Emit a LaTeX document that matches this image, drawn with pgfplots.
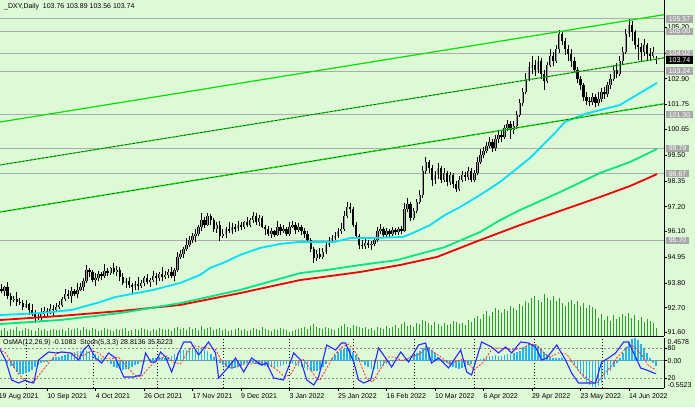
\documentclass[border=0pt]{standalone}
\usepackage{pgfplots}
\pgfplotsset{compat=1.18}
\usepackage{pgfplotstable}
\usepackage{fontspec}
\setmainfont{Liberation Sans}
\definecolor{bg}{RGB}{222,249,214}
\definecolor{lvl}{RGB}{172,172,172}
\definecolor{boxg}{RGB}{168,168,168}
\definecolor{chan}{RGB}{0,225,0}
\definecolor{macyan}{RGB}{0,225,250}
\definecolor{magreen}{RGB}{0,230,130}
\definecolor{mared}{RGB}{240,0,0}
\definecolor{vol}{RGB}{40,160,40}
\definecolor{osma}{RGB}{40,180,240}
\definecolor{stmain}{RGB}{40,40,255}
\definecolor{stsig}{RGB}{255,40,40}
\definecolor{bull}{RGB}{150,150,150}
\newcommand\sz{\fontsize{7}{8}\selectfont}

\pgfplotstableread[row sep=\\]{
i o h l c v m\\
0 93.70 93.82 93.40 93.55 7 0.05\\
1 93.55 93.75 93.37 93.45 6 0.03\\
2 93.45 93.68 93.23 93.60 8 0.00\\
3 93.60 93.85 93.08 93.20 5 -0.05\\
4 93.20 93.35 92.77 93.05 7 -0.10\\
5 93.05 93.20 92.95 93.10 6 -0.15\\
6 93.10 93.40 92.77 92.95 9 -0.22\\
7 92.95 93.13 92.84 92.90 5 -0.26\\
8 92.90 93.02 92.60 92.75 6 -0.27\\
9 92.75 93.05 92.67 92.85 8 -0.25\\
10 92.85 92.93 92.38 92.60 7 -0.22\\
11 92.60 92.85 92.33 92.45 6 -0.18\\
12 92.45 92.60 92.02 92.30 5 -0.12\\
13 92.30 92.40 92.15 92.25 8 -0.08\\
14 92.25 92.70 92.07 92.40 6 -0.05\\
15 92.40 92.73 92.34 92.55 7 -0.03\\
16 92.55 92.67 92.35 92.50 5 -0.01\\
17 92.50 92.85 92.42 92.65 6 0.02\\
18 92.65 92.80 92.32 92.60 7 0.05\\
19 92.60 92.90 92.50 92.75 6 0.07\\
20 92.75 93.00 92.62 92.80 6 0.08\\
21 92.80 93.18 92.74 93.10 7 0.10\\
22 93.10 93.55 92.98 93.30 5 0.12\\
23 93.30 93.50 93.08 93.20 8 0.13\\
24 93.20 93.60 92.92 93.45 6 0.15\\
25 93.45 93.55 93.20 93.30 7 0.17\\
26 93.30 93.80 93.12 93.50 8 0.19\\
27 93.50 93.78 93.44 93.60 6 0.20\\
28 93.60 94.02 93.45 93.90 9 0.22\\
29 93.90 94.60 93.82 94.40 7 0.20\\
30 94.40 94.48 94.08 94.30 6 0.19\\
31 94.30 94.40 93.83 93.95 8 0.17\\
32 93.95 94.25 93.67 94.00 7 0.14\\
33 94.00 94.35 93.90 94.20 5 0.10\\
34 94.20 94.30 93.92 94.10 6 0.06\\
35 94.10 94.65 94.04 94.35 8 0.02\\
36 94.35 94.47 94.10 94.25 7 -0.02\\
37 94.25 94.53 94.17 94.45 6 -0.07\\
38 94.45 94.70 94.18 94.30 5 -0.12\\
39 94.30 94.55 94.12 94.40 7 -0.15\\
40 94.40 94.50 93.90 94.05 6 -0.17\\
41 94.05 94.25 93.72 93.80 7 -0.18\\
42 93.80 94.02 93.58 93.90 8 -0.17\\
43 93.90 94.05 93.58 93.70 5 -0.15\\
44 93.70 93.80 93.32 93.60 6 -0.12\\
45 93.60 93.90 93.50 93.75 7 -0.09\\
46 93.75 94.05 93.47 93.65 6 -0.06\\
47 93.65 93.95 93.59 93.80 8 -0.03\\
48 93.80 94.12 93.65 94.00 7 -0.01\\
49 94.00 94.20 93.77 93.85 6 0.01\\
50 93.85 94.03 93.63 93.95 5 0.03\\
51 93.95 94.35 93.83 94.10 7 0.05\\
52 94.10 94.25 93.72 94.00 6 0.06\\
53 94.00 94.30 93.90 94.20 8 0.07\\
54 94.20 94.50 93.87 94.05 7 0.06\\
55 94.05 94.33 93.99 94.15 6 0.06\\
56 94.15 94.42 94.00 94.30 7 0.08\\
57 94.30 94.50 94.02 94.10 5 0.10\\
58 94.10 94.48 93.88 94.40 8 0.13\\
59 94.40 95.20 94.28 94.95 9 0.16\\
60 94.95 95.25 94.85 95.10 7 0.19\\
61 95.10 95.40 94.92 95.30 8 0.21\\
62 95.30 95.80 95.24 95.50 6 0.22\\
63 95.50 95.88 95.42 95.70 9 0.23\\
64 95.70 96.02 95.58 95.90 7 0.24\\
65 95.90 96.20 95.62 96.00 8 0.24\\
66 96.00 96.38 95.90 96.30 6 0.25\\
67 96.30 96.90 96.12 96.60 10 0.24\\
68 96.60 96.75 96.25 96.40 7 0.22\\
69 96.40 96.92 96.32 96.80 8 0.19\\
70 96.80 96.88 96.38 96.60 9 0.14\\
71 96.60 96.70 96.08 96.20 6 0.08\\
72 96.20 96.50 96.04 96.40 7 0.02\\
73 96.40 96.55 95.65 95.90 8 -0.04\\
74 95.90 96.20 95.80 96.00 6 -0.09\\
75 96.00 96.30 95.82 96.20 7 -0.13\\
76 96.20 96.50 96.04 96.10 5 -0.15\\
77 96.10 96.48 96.00 96.30 6 -0.16\\
78 96.30 96.42 96.05 96.20 7 -0.15\\
79 96.20 96.55 96.12 96.40 8 -0.12\\
80 96.40 96.50 96.15 96.30 6 -0.10\\
81 96.30 96.58 96.22 96.50 7 -0.07\\
82 96.50 96.75 96.28 96.40 5 -0.05\\
83 96.40 96.68 96.28 96.60 6 -0.04\\
84 96.60 96.95 96.48 96.80 8 -0.04\\
85 96.80 96.90 96.40 96.50 7 -0.06\\
86 96.50 96.85 96.32 96.70 6 -0.08\\
87 96.70 96.78 96.24 96.30 9 -0.10\\
88 96.30 96.40 95.92 96.20 7 -0.11\\
89 96.20 96.35 95.90 96.00 6 -0.12\\
90 96.00 96.25 95.82 96.10 5 -0.13\\
91 96.10 96.18 95.85 95.95 7 -0.13\\
92 95.95 96.55 95.89 96.30 6 -0.12\\
93 96.30 96.42 95.95 96.10 8 -0.10\\
94 96.10 96.40 96.02 96.20 7 -0.08\\
95 96.20 96.28 95.90 96.00 6 -0.06\\
96 96.00 96.50 95.88 96.30 4 -0.05\\
97 96.30 96.58 96.24 96.40 5 -0.06\\
98 96.40 96.52 96.00 96.15 6 -0.08\\
99 96.15 96.45 96.05 96.30 7 -0.10\\
100 96.30 96.40 95.95 96.10 8 -0.12\\
101 96.10 96.25 95.82 96.00 9 -0.15\\
102 96.00 96.10 95.58 95.70 7 -0.18\\
103 95.70 95.80 95.18 95.30 10 -0.20\\
104 95.30 95.40 94.70 94.90 12 -0.21\\
105 94.90 95.25 94.78 95.10 9 -0.21\\
106 95.10 95.35 94.85 94.95 8 -0.18\\
107 94.95 95.38 94.88 95.20 7 -0.13\\
108 95.20 95.62 95.10 95.50 9 -0.07\\
109 95.50 95.85 95.40 95.70 8 0.00\\
110 95.70 95.95 95.60 95.80 7 0.06\\
111 95.80 96.05 95.70 95.90 6 0.12\\
112 95.90 96.25 95.80 96.10 8 0.18\\
113 96.10 96.45 96.00 96.20 10 0.22\\
114 96.20 97.00 96.12 96.80 12 0.24\\
115 96.80 97.40 96.70 97.20 9 0.25\\
116 97.20 97.35 96.90 97.10 8 0.23\\
117 97.10 97.20 96.30 96.40 11 0.18\\
118 96.40 96.50 95.75 95.90 10 0.12\\
119 95.90 96.00 95.30 95.50 9 0.05\\
120 95.50 95.70 95.32 95.45 8 -0.02\\
121 95.45 95.75 95.30 95.60 9 -0.08\\
122 95.60 95.72 95.35 95.50 7 -0.13\\
123 95.50 95.68 95.28 95.55 8 -0.16\\
124 95.55 95.85 95.45 95.70 6 -0.17\\
125 95.70 96.30 95.62 96.10 9 -0.16\\
126 96.10 96.42 95.98 96.20 8 -0.13\\
127 96.20 96.30 95.85 95.95 7 -0.10\\
128 95.95 96.25 95.80 96.10 10 -0.07\\
129 96.10 96.20 95.85 96.00 8 -0.04\\
130 96.00 96.28 95.90 96.15 9 -0.02\\
131 96.15 96.25 95.92 96.05 11 0.00\\
132 96.05 96.30 95.95 96.20 8 0.01\\
133 96.20 96.35 95.98 96.10 12 0.02\\
134 96.10 97.35 96.05 97.10 14 0.04\\
135 97.10 97.60 96.95 97.30 10 0.06\\
136 97.30 97.40 96.55 96.70 11 0.09\\
137 96.70 97.15 96.60 97.00 9 0.12\\
138 97.00 97.55 96.90 97.40 13 0.15\\
139 97.40 97.95 97.30 97.70 12 0.20\\
140 97.70 99.00 97.60 98.80 16 0.26\\
141 98.80 99.40 98.65 99.20 15 0.30\\
142 99.20 99.30 98.70 98.90 13 0.28\\
143 98.90 99.05 98.10 98.40 11 0.22\\
144 98.40 98.80 98.20 98.60 14 0.15\\
145 98.60 99.15 98.45 98.90 12 0.08\\
146 98.90 99.00 98.25 98.40 10 0.03\\
147 98.40 98.90 98.30 98.70 13 -0.01\\
148 98.70 98.80 98.10 98.30 11 -0.05\\
149 98.30 98.75 98.15 98.60 12 -0.09\\
150 98.60 98.70 98.05 98.20 15 -0.12\\
151 98.20 98.35 97.85 98.00 14 -0.15\\
152 98.00 98.55 97.90 98.40 12 -0.16\\
153 98.40 98.80 98.30 98.60 13 -0.15\\
154 98.60 98.75 98.35 98.50 11 -0.12\\
155 98.50 98.95 98.40 98.80 16 -0.09\\
156 98.80 98.90 98.28 98.40 14 -0.06\\
157 98.40 98.85 98.30 98.70 18 -0.03\\
158 98.70 99.40 98.60 99.20 20 0.00\\
159 99.20 99.75 99.10 99.50 17 0.03\\
160 99.50 99.85 99.35 99.70 22 0.06\\
161 99.70 100.10 99.60 99.90 25 0.08\\
162 99.90 100.30 99.80 100.10 20 0.09\\
163 100.10 100.20 99.65 99.80 24 0.10\\
164 99.80 100.40 99.70 100.20 28 0.11\\
165 100.20 100.60 100.05 100.40 26 0.10\\
166 100.40 100.55 100.10 100.30 23 0.10\\
167 100.30 100.85 100.20 100.70 27 0.11\\
168 100.70 101.05 100.55 100.90 25 0.13\\
169 100.90 101.00 100.20 100.60 30 0.14\\
170 100.60 101.00 100.45 100.80 28 0.15\\
171 100.80 101.45 100.65 101.30 26 0.17\\
172 101.30 102.00 101.20 101.80 32 0.20\\
173 101.80 102.50 101.70 102.30 30 0.25\\
174 102.30 103.15 102.20 102.90 35 0.30\\
175 102.90 103.65 102.80 103.40 33 0.33\\
176 103.40 103.90 103.10 103.50 38 0.34\\
177 103.50 103.75 103.00 103.30 40 0.33\\
178 103.30 103.90 103.15 103.70 36 0.30\\
179 103.70 103.80 102.90 103.10 34 0.24\\
180 103.10 103.30 102.40 102.80 42 0.18\\
181 102.80 103.65 102.70 103.50 38 0.12\\
182 103.50 104.20 103.40 103.90 36 0.08\\
183 103.90 104.10 103.45 103.70 40 0.06\\
184 103.70 104.40 103.60 104.20 35 0.05\\
185 104.20 105.07 104.05 104.90 38 0.06\\
186 104.90 105.00 104.40 104.60 33 0.05\\
187 104.60 104.70 103.95 104.20 30 0.02\\
188 104.20 104.40 103.70 104.00 34 0.00\\
189 104.00 104.20 103.40 103.70 36 -0.02\\
190 103.70 103.85 103.15 103.30 32 -0.08\\
191 103.30 103.40 102.70 102.90 35 -0.16\\
192 102.90 103.00 102.40 102.60 30 -0.26\\
193 102.60 102.70 101.90 102.10 33 -0.36\\
194 102.10 102.30 101.75 101.90 28 -0.44\\
195 101.90 102.10 101.70 101.85 31 -0.50\\
196 101.85 102.25 101.72 102.10 29 -0.53\\
197 102.10 102.20 101.65 101.80 27 -0.55\\
198 101.80 102.30 101.70 102.00 18 -0.52\\
199 102.00 102.50 101.85 102.30 22 -0.45\\
200 102.30 102.55 102.00 102.20 16 -0.37\\
201 102.20 102.75 102.10 102.60 20 -0.28\\
202 102.60 103.10 102.45 102.90 15 -0.20\\
203 102.90 103.50 102.80 103.30 21 -0.12\\
204 103.30 103.60 102.95 103.10 17 -0.04\\
205 103.10 103.90 103.00 103.70 19 0.06\\
206 103.70 104.30 103.55 104.10 22 0.16\\
207 104.10 105.10 104.00 104.90 20 0.27\\
208 104.90 105.55 104.75 105.30 23 0.38\\
209 105.30 105.45 104.60 105.00 18 0.44\\
210 105.00 105.05 104.20 104.40 21 0.45\\
211 104.40 104.70 103.75 104.30 16 0.41\\
212 104.30 104.50 103.70 104.10 19 0.34\\
213 104.10 104.65 103.90 104.40 14 0.25\\
214 104.40 104.50 103.75 104.00 17 0.16\\
215 104.00 104.25 103.70 103.90 15 0.06\\
216 103.90 104.30 103.80 104.10 13 -0.04\\
217 103.76 103.89 103.56 103.74 8 -0.1083\\
}\ohlc

\pgfplotsset{
  chartx/.style={xmin=0.46, xmax=219.6, width=664pt, scale only axis,
    minor xtick={9.04,31.2,52.3,74.1,95.8,117,137.1,156.9,176.7,199.1}},
}

\begin{document}
\begin{tikzpicture}
\useasboundingbox (0pt,0pt) rectangle (695pt,407pt);
\fill[bg] (0pt,0pt) rectangle (695pt,407pt);

% volumes
\begin{axis}[chartx, at={(0pt,71pt)}, anchor=south west, height=336pt,
  ymin=0, ymax=336, hide axis]
\addplot[ycomb, vol, line width=0.9pt, mark=none] table[x=i, y=v] {\ohlc};
\end{axis}

% main price panel
\begin{axis}[chartx, at={(0pt,71pt)}, anchor=south west, height=336pt,
  ymin=91.438, ymax=106.405,
  axis x line*=bottom, axis y line*=right,
  axis line style={black, line width=0.8pt},
  xtick=\empty, xminorgrids, minor tick length=0pt,
  minor grid style={black, line width=0.6pt, dash pattern=on 1pt off 2pt},
  ytick={91.60,92.70,93.80,94.95,96.10,97.20,98.35,99.50,100.65,101.75,102.90,104.05,105.20},
  yticklabel style={font=\sz, anchor=west, inner sep=0pt, xshift=0.5pt},
  y tick label style={/pgf/number format/.cd, fixed, fixed zerofill, precision=2, assume math mode=true},
  tick align=outside, major tick length=3pt,
  tick style={black, line width=0.6pt}]
% horizontal levels
\addplot[lvl, line width=0.9pt] coordinates {(0.46,105.57) (219.6,105.57)};
\addplot[lvl, line width=0.9pt] coordinates {(0.46,105.00) (219.6,105.00)};
\addplot[lvl, line width=0.9pt] coordinates {(0.46,104.02) (219.6,104.02)};
\addplot[lvl, line width=0.9pt] coordinates {(0.46,103.24) (219.6,103.24)};
\addplot[lvl, line width=0.9pt] coordinates {(0.46,101.30) (219.6,101.30)};
\addplot[lvl, line width=0.9pt] coordinates {(0.46,99.79) (219.6,99.79)};
\addplot[lvl, line width=0.9pt] coordinates {(0.46,98.67) (219.6,98.67)};
\addplot[lvl, line width=0.9pt] coordinates {(0.46,95.70) (219.6,95.70)};
% candles
\addplot[black, line width=0.7pt, -, quiver={u=0, v=\thisrow{h}-\thisrow{l}}] table[x=i, y=l] {\ohlc};
\addplot[black, line width=2.4pt, -, quiver={u=0, v=\thisrow{c}-\thisrow{o}}] table[x=i, y=o] {\ohlc};
\addplot[bull, line width=1.0pt, -, quiver={u=0, v=\thisrow{c}-\thisrow{o}},
  restrict expr to domain={\thisrow{c}-\thisrow{o}}{0.001:100}] table[x=i, y=o] {\ohlc};
% moving averages
\addplot[mared, line width=1.8pt] coordinates {(0.46,92.15) (20.3,92.33) (40.1,92.55) (59.9,92.82) (79.7,93.35) (99.5,93.93) (119.3,94.29) (132.5,94.60) (144.7,94.96) (158.9,95.71) (172.1,96.38) (185.3,97.01) (198.5,97.63) (208.4,98.12) (217.3,98.65)};
\addplot[magreen, line width=1.8pt] coordinates {(0.46,91.97) (20.3,92.15) (40.1,92.46) (59.9,92.90) (79.7,93.49) (99.5,94.24) (108.4,94.38) (119.3,94.60) (131.5,94.82) (147.3,95.40) (158.9,96.07) (165.5,96.60) (172.1,97.05) (185.3,97.85) (198.5,98.70) (208.4,99.19) (217.3,99.77)};
\addplot[macyan, line width=1.8pt] coordinates {(0.46,92.37) (13.7,92.46) (24.2,92.60) (33.5,92.95) (38.4,93.17) (51,93.49) (59.9,93.80) (66.5,94.16) (69.8,94.47) (74.7,94.73) (79.7,95.05) (86.3,95.36) (92.9,95.54) (99.5,95.63) (106.1,95.63) (111,95.63) (116,95.80) (122.6,95.80) (133.5,95.85) (136.8,96.03) (142.4,96.38) (147.3,96.83) (152.3,97.18) (158.9,97.72) (165.5,98.30) (170.4,98.83) (175.4,99.37) (183.6,100.48) (186.9,100.97) (193.5,101.33) (198.5,101.50) (205.1,101.73) (209.4,102.08) (217.3,102.71)};
% channel
\addplot[chan, line width=1.2pt] coordinates {(0,100.96) (219.6,105.75)};
\addplot[chan, line width=1.0pt] coordinates {(0,99.045) (219.6,103.83)};
\addplot[black!80, line width=0.7pt, dash pattern=on 2pt off 2pt] coordinates {(0,99.045) (219.6,103.83)};
\addplot[chan, line width=1.3pt] coordinates {(0,96.95) (219.6,101.78)};
\addplot[black!80, line width=0.6pt, dash pattern=on 2pt off 3pt] coordinates {(0,96.95) (219.6,101.78)};
\coordinate (b1) at (axis cs:219.6,105.57);
\coordinate (b2) at (axis cs:219.6,105.00);
\coordinate (b3) at (axis cs:219.6,104.02);
\coordinate (b4) at (axis cs:219.6,103.24);
\coordinate (b5) at (axis cs:219.6,101.30);
\coordinate (b6) at (axis cs:219.6,99.79);
\coordinate (b7) at (axis cs:219.6,98.67);
\coordinate (b8) at (axis cs:219.6,95.70);
\coordinate (bc) at (axis cs:219.6,103.74);
\end{axis}

% stochastic overlay
\begin{axis}[chartx, at={(0pt,19pt)}, anchor=south west, height=50pt,
  ymin=0, ymax=100, hide axis]
\end{axis}

% indicator panel
\begin{axis}[chartx, at={(0pt,19pt)}, anchor=south west, height=50pt,
  ymin=-0.5523, ymax=0.4578,
  axis x line*=bottom, axis y line*=right,
  axis line style={black, line width=0.8pt},
  xtick={16,32,48,64,80,96,112,128,144,160,176,192,208},
  xticklabels={10 Sep 2021,4 Oct 2021,26 Oct 2021,17 Nov 2021,9 Dec 2021,3 Jan 2022,25 Jan 2022,16 Feb 2022,10 Mar 2022,6 Apr 2022,29 Apr 2022,23 May 2022,14 Jun 2022},
  xticklabel style={font=\sz, anchor=north west, inner sep=0pt, yshift=-2pt},
  xminorgrids, minor tick length=0pt,
  minor grid style={black, line width=0.6pt, dash pattern=on 1pt off 2pt},
  ytick={0}, yticklabels={0.00},
  extra y ticks={0.2558,-0.3503}, extra y tick labels={80,20},
  extra y tick style={ymajorgrids=true, major grid style={black!45, line width=0.6pt, dash pattern=on 2pt off 2pt}},
  yticklabel style={font=\sz, anchor=west, inner sep=0pt, xshift=0.5pt},
  tick align=outside, major tick length=3pt,
  tick style={black, line width=0.6pt}]
\addplot[black!45, line width=0.7pt] coordinates {(0.46,0) (219.6,0)};
\addplot[ycomb, osma, line width=1.6pt, mark=none] table[x=i, y=m] {\ohlc};
\coordinate (itop) at (rel axis cs:1,1);
\coordinate (ibot) at (rel axis cs:1,0);
\coordinate (d0) at (axis cs:0,-0.5523);
\end{axis}

\begin{axis}[chartx, at={(0pt,19pt)}, anchor=south west, height=50pt,
  ymin=0, ymax=100, hide axis]
\addplot[stsig, line width=0.8pt, dash pattern=on 2pt off 1.5pt] coordinates {(0,78) (2.3,70) (4.3,50) (6.6,28) (8.9,14) (11.6,13) (13.2,25) (16.5,50) (19.1,68) (21,72) (24,70) (26.4,64) (28.5,66) (30.5,75) (32.5,72) (35,60) (37,58) (39.5,62) (42,45) (45,25) (47,22) (49.5,40) (51.5,52) (53.5,60) (55.5,64) (57.5,52) (60,48) (62,68) (64,85) (66.5,82) (69,80) (71.5,78) (73.5,55) (76,40) (78.5,42) (81,48) (83.5,48) (86.5,50) (89,48) (91.5,38) (94.5,22) (96.5,28) (98.5,50) (100.5,58) (102.5,42) (104.5,22) (106,15) (108.5,42) (111,68) (113.5,82) (115.5,88) (118,70) (120,40) (121.5,18) (123.5,12) (126,38) (128.5,62) (130.5,62) (133,55) (135.5,60) (139,68) (141.5,82) (143.5,72) (146,62) (149,48) (153,58) (155,50) (157,36) (160,52) (163,80) (165.5,80) (168,78) (170,76) (173,80) (175.5,88) (177.5,86) (180,70) (182,62) (184.5,70) (187.5,68) (189.5,50) (192,30) (195,14) (197.5,10) (199.5,26) (202,42) (204,60) (206.5,76) (208.5,86) (210,82) (212.5,64) (214.5,45) (217,35.62)};
\addplot[stmain, line width=1.1pt] coordinates {(0,82) (2.3,56) (4.3,16) (6.6,10) (8.9,16) (9.9,12) (11.6,10) (13.2,56) (16.5,72) (19.1,70) (20.8,72) (23.8,70) (26.4,56) (28,76) (29.7,86) (32,60) (34,50) (36.3,70) (38.6,60) (41.3,22) (44.6,22) (46.9,26) (48.5,70) (50.2,52) (51.8,52) (53.5,72) (55.1,62) (57.1,32) (59.4,70) (61.1,92) (63.4,92) (66,66) (69.3,92) (71.6,70) (72.6,20) (75.9,42) (78.2,60) (80.9,32) (83.5,60) (86.8,46) (88.4,50) (90.8,20) (94,16) (95.7,42) (97.4,70) (99.7,56) (101.7,16) (104,6) (105.6,22) (108.3,86) (111.2,76) (113.2,90) (114.5,90) (117.2,52) (118.8,16) (120.5,10) (122.8,16) (125.4,80) (127.7,60) (129.7,42) (132.7,72) (135.3,52) (138.6,86) (140.9,90) (142.9,50) (145.2,60) (148.5,40) (152.5,76) (154.5,32) (156.1,26) (159.4,92) (162.7,82) (165,70) (167.3,82) (169.3,70) (172.3,92) (174.9,90) (177.2,82) (179.2,56) (180.9,60) (184.2,86) (187.1,56) (189.1,30) (191.4,10) (194.7,10) (197,10) (199,52) (201.3,60) (203.6,70) (206.3,92) (207.9,92) (209.6,70) (211.9,40) (213.9,36) (216.2,30) (217,28.81)};
\end{axis}

% price boxes
\tikzset{pbox/.style={anchor=west, fill=boxg, text=white, font=\sz, inner xsep=2.6pt, inner ysep=1.3pt, xshift=2pt}}
\node[pbox] at (b1) {105.57};
\node[pbox] at (b2) {105.00};
\node[pbox] at (b3) {104.02};
\node[pbox] at (b4) {103.24};
\node[pbox] at (b5) {101.30};
\node[pbox] at (b6) {99.79};
\node[pbox] at (b7) {98.67};
\node[pbox] at (b8) {95.70};
\node[pbox, fill=black] at (bc) {103.74};
\node[font=\sz, anchor=north west, inner sep=0pt, xshift=3.5pt, yshift=-1.5pt] at (itop) {0.4578};
\node[font=\sz, anchor=south west, inner sep=0pt, xshift=3.5pt, yshift=0.5pt] at (ibot) {-0.5523};
\node[font=\sz, anchor=north west, inner sep=0pt, yshift=-5pt] at (d0) {19 Aug 2021};
% titles
\node[font=\sz, anchor=west, inner sep=0pt] at (4pt,400pt) {\_DXY,Daily\ \ 103.76 103.89 103.56 103.74};
\node[font=\sz, anchor=west, inner sep=0pt] at (3pt,64pt) {OsMA(12,26,9) -0.1083\ \ Stoch(5,3,3) 28.8136 35.6223};
\end{tikzpicture}
\end{document}
